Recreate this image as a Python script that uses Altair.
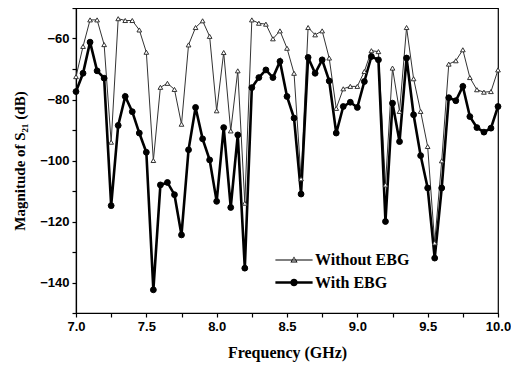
import altair as alt
import pandas as pd

freq = [7.00, 7.05, 7.10, 7.15, 7.20, 7.25, 7.30, 7.35, 7.40, 7.45,
        7.50, 7.55, 7.60, 7.65, 7.70, 7.75, 7.80, 7.85, 7.90, 7.95,
        8.00, 8.05, 8.10, 8.15, 8.20, 8.25, 8.30, 8.35, 8.40, 8.45,
        8.50, 8.55, 8.60, 8.65, 8.70, 8.75, 8.80, 8.85, 8.90, 8.95,
        9.00, 9.05, 9.10, 9.15, 9.20, 9.25, 9.30, 9.35, 9.40, 9.45,
        9.50, 9.55, 9.60, 9.65, 9.70, 9.75, 9.80, 9.85, 9.90, 9.95,
        10.00]

without_ebg = [-72.5, -62.6, -53.9, -53.9, -62.0, -94.0, -53.5, -54.1, -54.1, -57.2,
               -64.5, -100.0, -76.0, -74.7, -76.7, -88.1, -62.1, -56.4, -54.2, -59.3,
               -83.7, -64.6, -90.3, -70.6, -114.0, -53.9, -55.0, -55.3, -60.1, -57.5,
               -63.2, -71.4, -106.0, -56.4, -58.8, -57.5, -66.4, -82.9, -76.5, -75.7,
               -75.7, -70.8, -64.0, -64.3, -108.0, -69.7, -83.9, -56.4, -73.2, -83.9,
               -95.4, -127.0, -100.1, -68.4, -67.3, -63.7, -72.8, -76.8, -77.6, -77.4,
               -70.3]

with_ebg = [-77.4, -71.4, -61.2, -70.6, -73.0, -114.8, -88.5, -79.0, -84.0, -91.0,
            -97.3, -142.4, -108.0, -107.2, -111.2, -124.4, -96.5, -82.6, -92.9, -99.8,
            -113.4, -89.2, -115.4, -91.6, -135.3, -76.1, -72.8, -70.3, -72.8, -67.5,
            -79.0, -86.1, -111.0, -66.2, -71.4, -67.0, -73.9, -91.0, -82.3, -80.9,
            -82.6, -74.1, -65.9, -67.0, -120.0, -81.2, -93.8, -66.4, -85.0, -98.4,
            -109.0, -132.0, -109.0, -79.4, -80.4, -75.7, -85.6, -89.2, -90.7, -89.4,
            -82.3]

series_names = ["Without EBG", "With EBG"]
x_ticks = [7.0, 7.25, 7.5, 7.75, 8.0, 8.25, 8.5, 8.75, 9.0, 9.25, 9.5, 9.75, 10.0]
y_ticks = [-150, -140, -130, -120, -110, -100, -90, -80, -70, -60, -50]

df = pd.concat([
    pd.DataFrame({"f": freq, "v": without_ebg, "series": series_names[0]}),
    pd.DataFrame({"f": freq, "v": with_ebg, "series": series_names[1]}),
])

X = alt.X("f:Q", scale=alt.Scale(domain=[7.0, 10.0], nice=False),
          axis=alt.Axis(values=x_ticks, title="Frequency (GHz)",
                        labelExpr="datum.value % 0.5 == 0 ? format(datum.value, '.1f') : ''"))
Y = alt.Y("v:Q", scale=alt.Scale(domain=[-150, -50], nice=False),
          axis=alt.Axis(values=y_ticks, title="Magnitude of S₂₁ (dB)",
                        labelExpr="datum.value % 20 == 0 ? format(datum.value, 'd') : ''"))

base = alt.Chart(df)

line_wo = base.transform_filter(alt.datum.series == series_names[0]).mark_line(
    color="#333333", strokeWidth=1.0).encode(x=X, y=Y)
pt_wo = base.transform_filter(alt.datum.series == series_names[0]).mark_point(
    shape="triangle-up", size=22, filled=True, fill="white", stroke="#333333",
    strokeWidth=1.0, opacity=1).encode(x=X, y=Y)
line_w = base.transform_filter(alt.datum.series == series_names[1]).mark_line(
    color="black", strokeWidth=2.6).encode(x=X, y=Y)
pt_w = base.transform_filter(alt.datum.series == series_names[1]).mark_point(
    shape="circle", size=34, filled=True, fill="black", stroke="black",
    strokeWidth=1.0, opacity=1).encode(x=X, y=Y)

# legend glyphs drawn purely by fill (1 unit = 6 px at symbolSize 144)
tri_path = ("M-3.1,-0.09H3.1V0.09H-3.1Z"
            "M0,-0.6L0.6,0.42L-0.6,0.42Z"
            "M0,-0.36L-0.36,0.27L0.36,0.27Z")
cir_path = ("M-3.1,-0.22H3.1V0.22H-3.1Z"
            "M0.62,0A0.62,0.62,0,1,1,-0.62,0A0.62,0.62,0,1,1,0.62,0Z")

legend_layer = base.transform_filter("false").mark_point(
    filled=True, color="black", opacity=1).encode(
    x=X, y=Y,
    shape=alt.Shape("series:N", scale=alt.Scale(domain=series_names, range=[tri_path, cir_path]),
                    legend=alt.Legend(title=None, orient="none", legendX=210, legendY=244,
                                      symbolSize=144, labelOffset=13, rowPadding=6.5,
                                      labelFont="Liberation Serif", labelFontWeight="bold",
                                      labelFontSize=16, labelColor="black",
                                      symbolFillColor="black", symbolOpacity=1, padding=0)),
)

chart = alt.layer(line_wo, line_w, pt_wo, pt_w, legend_layer).properties(
    width=422, height=305,
    autosize=alt.AutoSizeParams(type="none"),
    padding={"left": 68, "top": 0, "right": 13, "bottom": 49},
).configure_view(stroke="black", strokeWidth=1.2).configure_axis(
    grid=False, domainColor="black", domainWidth=1.2, tickColor="black", tickSize=4,
    tickWidth=1.2, labelFont="Liberation Sans", labelFontWeight="bold", labelFontSize=13,
    labelColor="black", labelPadding=3, titleFont="Liberation Serif", titleFontWeight="bold",
    titleFontSize=16, titleColor="black", labelFlush=False,
).configure_axisY(titlePadding=12, titleFontSize=15).configure_axisX(titlePadding=11)

chart.save("out.html", embed_options={"renderer": "svg", "actions": False})
